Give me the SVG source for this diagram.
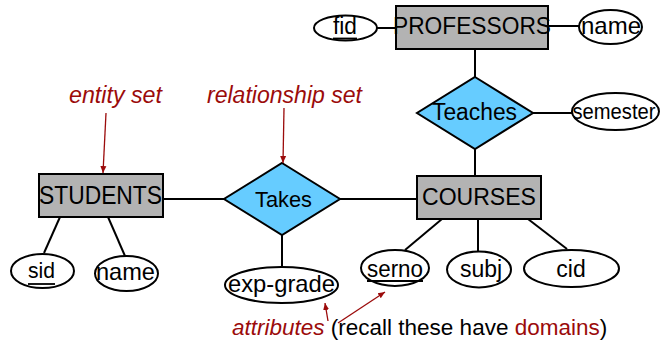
<svg xmlns="http://www.w3.org/2000/svg" width="662" height="343" viewBox="0 0 662 343">
  <style>
    .ent { fill: #b3b3b3; stroke: #000; stroke-width: 2; }
    .rel { fill: #66ccff; stroke: #000; stroke-width: 2; }
    .att { fill: #fff; stroke: #000; stroke-width: 2; }
    .lbl { font-family: "Liberation Sans", Arial, sans-serif; fill: #000; text-anchor: middle; }
    .note { font-family: "Liberation Sans", Arial, sans-serif; font-style: italic; fill: #9b0b0b; }
    .plain { font-family: "Liberation Sans", Arial, sans-serif; fill: #000; }
    .conn line { stroke: #000; stroke-width: 2; }
    .ptr { stroke: #9b0b0b; stroke-width: 1.3; marker-end: url(#ah); }
    .ul { stroke: #000; stroke-width: 1.8; }
  </style>
  <defs>
    <marker id="ah" markerWidth="8" markerHeight="8" refX="7" refY="4" orient="auto" markerUnits="userSpaceOnUse">
      <path d="M0,1 L7,4 L0,7 Z" fill="#9b0b0b"/>
    </marker>
  </defs>
  <rect width="662" height="343" fill="#fff"/>

  <!-- connectors -->
  <g id="connectors" class="conn">
    <line x1="377" y1="28" x2="396" y2="28"/>
    <line x1="548" y1="26" x2="579" y2="26"/>
    <line x1="475" y1="49" x2="475" y2="77"/>
    <line x1="533" y1="113" x2="572" y2="113"/>
    <line x1="475" y1="149" x2="475" y2="176"/>
    <line x1="163" y1="199" x2="224" y2="199"/>
    <line x1="340" y1="199" x2="417" y2="199"/>
    <line x1="282" y1="235" x2="282" y2="267"/>
    <line x1="60" y1="217" x2="44" y2="253"/>
    <line x1="108" y1="217" x2="125" y2="256"/>
    <line x1="442" y1="219" x2="405" y2="250"/>
    <line x1="478" y1="219" x2="478" y2="251"/>
    <line x1="528" y1="219" x2="567" y2="249"/>
  </g>

  <!-- entity sets -->
  <g id="professors">
    <rect class="ent" x="396" y="6" width="152" height="43"/>
    <text class="lbl" x="472" y="34" font-size="24" textLength="158" lengthAdjust="spacingAndGlyphs">PROFESSORS</text>
  </g>
  <g id="students">
    <rect class="ent" x="39" y="174" width="124" height="43"/>
    <text class="lbl" x="100.5" y="204" font-size="25" textLength="123" lengthAdjust="spacingAndGlyphs">STUDENTS</text>
  </g>
  <g id="courses">
    <rect class="ent" x="417" y="176" width="124" height="43"/>
    <text class="lbl" x="479" y="205" font-size="24.5" textLength="114" lengthAdjust="spacingAndGlyphs">COURSES</text>
  </g>

  <!-- relationship sets -->
  <g id="teaches">
    <polygon class="rel" points="475,77 533,113 475,149 417,113"/>
    <text class="lbl" x="474.5" y="120" font-size="23" textLength="85" lengthAdjust="spacingAndGlyphs">Teaches</text>
  </g>
  <g id="takes">
    <polygon class="rel" points="282,163 340,199 282,235 224,199"/>
    <text class="lbl" x="283.5" y="207" font-size="22" textLength="57" lengthAdjust="spacingAndGlyphs">Takes</text>
  </g>

  <!-- attributes -->
  <g id="fid">
    <ellipse class="att" cx="345.5" cy="28" rx="31.5" ry="12.5"/>
    <text class="lbl" x="345" y="34" font-size="23" textLength="24" lengthAdjust="spacingAndGlyphs">fid</text>
    <line class="ul" x1="333" y1="38.5" x2="357" y2="38.5"/>
  </g>
  <g id="prof-name">
    <ellipse class="att" cx="610.5" cy="27" rx="31.5" ry="17"/>
    <text class="lbl" x="611" y="34" font-size="24" textLength="60" lengthAdjust="spacingAndGlyphs">name</text>
  </g>
  <g id="semester">
    <ellipse class="att" cx="615.5" cy="111.5" rx="43.5" ry="18.5"/>
    <text class="lbl" x="614" y="119" font-size="22" textLength="83" lengthAdjust="spacingAndGlyphs">semester</text>
  </g>
  <g id="sid">
    <ellipse class="att" cx="42.5" cy="271" rx="31.5" ry="17"/>
    <text class="lbl" x="41.5" y="278" font-size="22" textLength="27" lengthAdjust="spacingAndGlyphs">sid</text>
    <line class="ul" x1="28" y1="284" x2="55" y2="284"/>
  </g>
  <g id="stud-name">
    <ellipse class="att" cx="126.5" cy="273.5" rx="31.5" ry="17.5"/>
    <text class="lbl" x="125.5" y="280" font-size="24" textLength="59" lengthAdjust="spacingAndGlyphs">name</text>
  </g>
  <g id="exp-grade">
    <ellipse class="att" cx="281.5" cy="285" rx="56.5" ry="18"/>
    <text class="lbl" x="281.5" y="292" font-size="24" textLength="107" lengthAdjust="spacingAndGlyphs">exp-grade</text>
  </g>
  <g id="serno">
    <ellipse class="att" cx="395" cy="268" rx="34" ry="18"/>
    <text class="lbl" x="395" y="277" font-size="23" textLength="56" lengthAdjust="spacingAndGlyphs">serno</text>
    <line class="ul" x1="367" y1="281" x2="423" y2="281"/>
  </g>
  <g id="subj">
    <ellipse class="att" cx="479" cy="269.5" rx="32" ry="18"/>
    <text class="lbl" x="481" y="277" font-size="23">subj</text>
  </g>
  <g id="cid">
    <ellipse class="att" cx="571.5" cy="268.5" rx="47.5" ry="18.5"/>
    <text class="lbl" x="571" y="277" font-size="23">cid</text>
  </g>

  <!-- annotations -->
  <g id="notes">
    <text class="note" x="69" y="103" font-size="23" textLength="93" lengthAdjust="spacingAndGlyphs">entity set</text>
    <text class="note" x="207" y="103" font-size="23" textLength="155" lengthAdjust="spacingAndGlyphs">relationship set</text>
    <line class="ptr" x1="106" y1="113" x2="103" y2="173"/>
    <line class="ptr" x1="284" y1="108" x2="283" y2="163"/>
    <text x="232" y="335" font-size="22.5" class="plain"><tspan class="note">attributes</tspan> (recall these have <tspan fill="#9b0b0b">domains</tspan>)</text>
    <line class="ptr" x1="328" y1="321" x2="325" y2="303"/>
    <line class="ptr" x1="338" y1="323" x2="385" y2="292"/>
  </g>
</svg>
